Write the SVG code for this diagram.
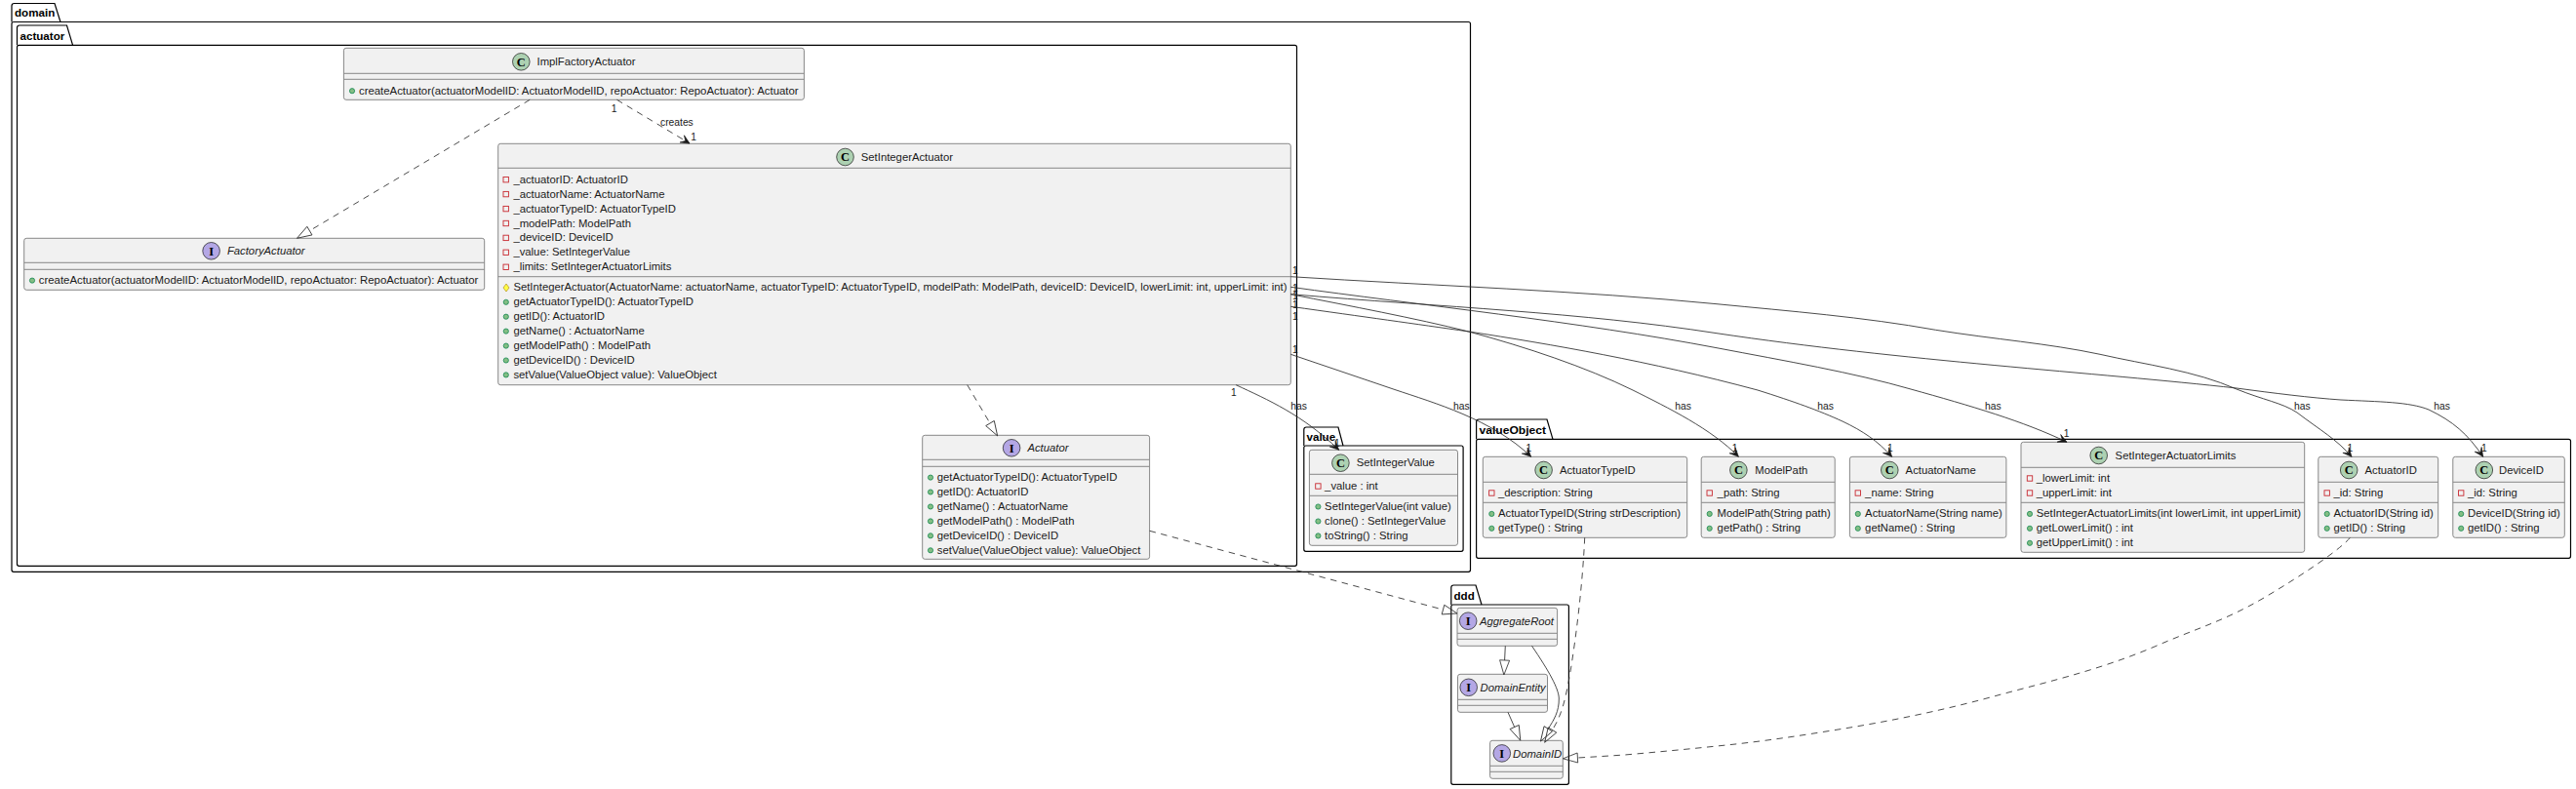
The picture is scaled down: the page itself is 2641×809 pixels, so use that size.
<svg xmlns="http://www.w3.org/2000/svg" width="2641" height="809" viewBox="0 0 2641 809">
<style>
text{font-family:"Liberation Sans",Arial,sans-serif;font-size:11.3px;fill:#1a1a1a}
.pk{fill:none;stroke:#000;stroke-width:1.2}
.pt{font-weight:bold;font-size:11.6px;fill:#000}
.b{fill:#F1F1F1;stroke:#888;stroke-width:1}
.d{stroke:#888;stroke-width:1}
.ci{fill:#ADD1B2;stroke:#181818;stroke-width:.7}
.ii{fill:#B4A7E5;stroke:#181818;stroke-width:.7}
.l{font-family:"Liberation Serif",serif;font-size:12.5px;font-weight:bold;text-anchor:middle;fill:#000}
.it{font-style:italic}
.pub{fill:#84BE84;stroke:#038048;stroke-width:.7}
.pri{fill:none;stroke:#C82930;stroke-width:.9}
.pro{fill:#FFFF44;stroke:#B38D22;stroke-width:.7}
.e{fill:none;stroke:#2a2a2a;stroke-width:.85}
.da{stroke-dasharray:6.5,5.5}
.imp{marker-end:url(#tri)}
.arr{marker-end:url(#ah)}
.el{font-size:10.3px}
</style>
<defs>
<marker id="tri" viewBox="-1 -7 18 14" refX="0" refY="0" markerWidth="18" markerHeight="14" markerUnits="userSpaceOnUse" orient="auto"><path d="M0,-5 L0,5 L15,0 Z" fill="none" stroke="#2a2a2a" stroke-width=".8"/></marker>
<marker id="ah" viewBox="-10 -6 11 12" refX="0" refY="0" markerWidth="11" markerHeight="12" markerUnits="userSpaceOnUse" orient="auto"><path d="M0,0 L-9,-4.2 L-5,0 L-9,4.2 Z" fill="#181818" stroke="#181818" stroke-width=".6"/></marker>
</defs>
<rect width="2641" height="809" fill="#fff"/>
<g id="packages">
<g id="pkg-domain"><path class="pk" d="M12,22.5 V6 Q12,3.5 14.5,3.5 H56 L62,22.5"/><rect class="pk" x="12" y="22.5" width="1495.5" height="563.8" rx="2"/><text class="pt" x="15" y="17.3">domain</text></g>
<g id="pkg-actuator"><path class="pk" d="M17.5,46.3 V28.5 Q17.5,26 20,26 H68.5 L74.6,46.3"/><rect class="pk" x="17.5" y="46.3" width="1312" height="534" rx="2"/><text class="pt" x="20.5" y="40.5">actuator</text></g>
<g id="pkg-value"><path class="pk" d="M1336.8,457 V440.5 Q1336.8,438 1339.3,438 H1372 L1377,457"/><rect class="pk" x="1336.8" y="457" width="163.3" height="108.3" rx="2"/><text class="pt" x="1339.5" y="452">value</text></g>
<g id="pkg-valueObject"><path class="pk" d="M1513.6,450.3 V432.5 Q1513.6,430 1516.1,430 H1586 L1592,450.3"/><rect class="pk" x="1513.6" y="450.3" width="1121.9" height="122" rx="2"/><text class="pt" x="1516.5" y="444.5" textLength="68.5" lengthAdjust="spacingAndGlyphs">valueObject</text></g>
<g id="pkg-ddd"><path class="pk" d="M1487.8,620 V602.5 Q1487.8,600 1490.3,600 H1513 L1519,620"/><rect class="pk" x="1487.8" y="620" width="120.6" height="184.3" rx="2"/><text class="pt" x="1490.5" y="614.5">ddd</text></g>
</g>
<g id="n-ImplFactoryActuator"><rect class="b" x="352.4" y="49.3" width="472" height="53" rx="2.5"/><path class="d" d="M352.4,75.3 H824.4 M352.4,81.3 H824.4"/><circle class="ci" cx="534.3" cy="63.3" r="8.8"/><text class="l" x="534.3" y="67.6">C</text><text x="550.5" y="67">ImplFactoryActuator</text><circle class="pub" cx="361" cy="93.2" r="2.6"/><text x="368" y="96.7" textLength="450.6" lengthAdjust="spacingAndGlyphs">createActuator(actuatorModelID: ActuatorModelID, repoActuator: RepoActuator): Actuator</text></g>
<g id="n-FactoryActuator"><rect class="b" x="24.7" y="244.3" width="472" height="53" rx="2.5"/><path class="d" d="M24.7,269.3 H496.7 M24.7,276.3 H496.7"/><circle class="ii" cx="216.6" cy="257.3" r="8.8"/><text class="l" x="216.6" y="261.6">I</text><text class="it" x="232.9" y="261">FactoryActuator</text><circle class="pub" cx="33" cy="287.6" r="2.6"/><text x="39.8" y="291.1" textLength="450.6" lengthAdjust="spacingAndGlyphs">createActuator(actuatorModelID: ActuatorModelID, repoActuator: RepoActuator): Actuator</text></g>
<g id="n-SetIntegerActuator"><rect class="b" x="510.7" y="147.3" width="812.6" height="247.4" rx="2.5"/><path class="d" d="M510.7,172.3 H1323.3 M510.7,283.7 H1323.3"/><circle class="ci" cx="866.5" cy="161" r="8.8"/><text class="l" x="866.5" y="165.3">C</text><text x="882.8" y="164.7">SetIntegerActuator</text>
<rect class="pri" x="516" y="181.5" width="5.4" height="5.4"/><text x="526.4" y="187.7">_actuatorID: ActuatorID</text>
<rect class="pri" x="516" y="196.4" width="5.4" height="5.4"/><text x="526.4" y="202.6">_actuatorName: ActuatorName</text>
<rect class="pri" x="516" y="211.4" width="5.4" height="5.4"/><text x="526.4" y="217.6">_actuatorTypeID: ActuatorTypeID</text>
<rect class="pri" x="516" y="226.3" width="5.4" height="5.4"/><text x="526.4" y="232.5">_modelPath: ModelPath</text>
<rect class="pri" x="516" y="241.2" width="5.4" height="5.4"/><text x="526.4" y="247.4">_deviceID: DeviceID</text>
<rect class="pri" x="516" y="256.1" width="5.4" height="5.4"/><text x="526.4" y="262.3">_value: SetIntegerValue</text>
<rect class="pri" x="516" y="271.1" width="5.4" height="5.4"/><text x="526.4" y="277.3">_limits: SetIntegerActuatorLimits</text>
<path class="pro" d="M519,291 L522,295 L519,299 L516,295 Z"/><text x="526.4" y="298.3">SetIntegerActuator(ActuatorName: actuatorName, actuatorTypeID: ActuatorTypeID, modelPath: ModelPath, deviceID: DeviceID, lowerLimit: int, upperLimit: int)</text>
<circle class="pub" cx="518.8" cy="309.8" r="2.6"/><text x="526.4" y="313.3">getActuatorTypeID(): ActuatorTypeID</text>
<circle class="pub" cx="518.8" cy="324.7" r="2.6"/><text x="526.4" y="328.2">getID(): ActuatorID</text>
<circle class="pub" cx="518.8" cy="339.6" r="2.6"/><text x="526.4" y="343.1">getName() : ActuatorName</text>
<circle class="pub" cx="518.8" cy="354.6" r="2.6"/><text x="526.4" y="358.1">getModelPath() : ModelPath</text>
<circle class="pub" cx="518.8" cy="369.5" r="2.6"/><text x="526.4" y="373">getDeviceID() : DeviceID</text>
<circle class="pub" cx="518.8" cy="384.4" r="2.6"/><text x="526.4" y="387.9">setValue(ValueObject value): ValueObject</text></g>
<g id="n-Actuator"><rect class="b" x="945.7" y="446.3" width="232.9" height="127" rx="2.5"/><path class="d" d="M945.7,471.3 H1178.6 M945.7,478.3 H1178.6"/><circle class="ii" cx="1037.1" cy="459.3" r="8.8"/><text class="l" x="1037.1" y="463.6">I</text><text class="it" x="1053.4" y="463">Actuator</text>
<circle class="pub" cx="954" cy="489.6" r="2.6"/><text x="960.8" y="493.1">getActuatorTypeID(): ActuatorTypeID</text>
<circle class="pub" cx="954" cy="504.5" r="2.6"/><text x="960.8" y="508">getID(): ActuatorID</text>
<circle class="pub" cx="954" cy="519.5" r="2.6"/><text x="960.8" y="523">getName() : ActuatorName</text>
<circle class="pub" cx="954" cy="534.4" r="2.6"/><text x="960.8" y="537.9">getModelPath() : ModelPath</text>
<circle class="pub" cx="954" cy="549.3" r="2.6"/><text x="960.8" y="552.8">getDeviceID() : DeviceID</text>
<circle class="pub" cx="954" cy="564.3" r="2.6"/><text x="960.8" y="567.8">setValue(ValueObject value): ValueObject</text></g>
<g id="n-SetIntegerValue"><rect class="b" x="1342.4" y="461.3" width="152.1" height="98" rx="2.5"/><path class="d" d="M1342.4,486.3 H1494.5 M1342.4,508.3 H1494.5"/><circle class="ci" cx="1374.4" cy="474.7" r="8.8"/><text class="l" x="1374.4" y="479">C</text><text x="1390.7" y="478.4">SetIntegerValue</text>
<rect class="pri" x="1348.7" y="495.8" width="5.4" height="5.4"/><text x="1358.1" y="502">_value : int</text>
<circle class="pub" cx="1351.4" cy="519.5" r="2.6"/><text x="1358.1" y="523">SetIntegerValue(int value)</text>
<circle class="pub" cx="1351.4" cy="534.5" r="2.6"/><text x="1358.1" y="538">clone() : SetIntegerValue</text>
<circle class="pub" cx="1351.4" cy="549.4" r="2.6"/><text x="1358.1" y="552.9">toString() : String</text></g>
<g id="n-ActuatorTypeID"><rect class="b" x="1520.3" y="468.3" width="209.4" height="83" rx="2.5"/><path class="d" d="M1520.3,494.3 H1729.7 M1520.3,515.3 H1729.7"/><circle class="ci" cx="1582.6" cy="482" r="8.8"/><text class="l" x="1582.6" y="486.3">C</text><text x="1598.9" y="485.7">ActuatorTypeID</text>
<rect class="pri" x="1526.6" y="502.8" width="5.4" height="5.4"/><text x="1536" y="509">_description: String</text>
<circle class="pub" cx="1529.3" cy="526.9" r="2.6"/><text x="1536" y="530.4">ActuatorTypeID(String strDescription)</text>
<circle class="pub" cx="1529.3" cy="541.8" r="2.6"/><text x="1536" y="545.3">getType() : String</text></g>
<g id="n-ModelPath"><rect class="b" x="1744.2" y="468.3" width="137" height="83" rx="2.5"/><path class="d" d="M1744.2,494.3 H1881.2 M1744.2,515.3 H1881.2"/><circle class="ci" cx="1782.4" cy="482" r="8.8"/><text class="l" x="1782.4" y="486.3">C</text><text x="1799.3" y="485.7">ModelPath</text>
<rect class="pri" x="1750" y="502.8" width="5.4" height="5.4"/><text x="1760.6" y="509">_path: String</text>
<circle class="pub" cx="1752.7" cy="526.9" r="2.6"/><text x="1760.6" y="530.4">ModelPath(String path)</text>
<circle class="pub" cx="1752.7" cy="541.8" r="2.6"/><text x="1760.6" y="545.3">getPath() : String</text></g>
<g id="n-ActuatorName"><rect class="b" x="1896.4" y="468.3" width="160.5" height="83" rx="2.5"/><path class="d" d="M1896.4,494.3 H2056.9 M1896.4,515.3 H2056.9"/><circle class="ci" cx="1937.3" cy="482" r="8.8"/><text class="l" x="1937.3" y="486.3">C</text><text x="1953.6" y="485.7">ActuatorName</text>
<rect class="pri" x="1902.1" y="502.8" width="5.4" height="5.4"/><text x="1912.1" y="509">_name: String</text>
<circle class="pub" cx="1904.8" cy="526.9" r="2.6"/><text x="1912.1" y="530.4">ActuatorName(String name)</text>
<circle class="pub" cx="1904.8" cy="541.8" r="2.6"/><text x="1912.1" y="545.3">getName() : String</text></g>
<g id="n-SetIntegerActuatorLimits"><rect class="b" x="2072" y="453.3" width="290.7" height="113" rx="2.5"/><path class="d" d="M2072,479.3 H2362.7 M2072,515.3 H2362.7"/><circle class="ci" cx="2151.7" cy="467" r="8.8"/><text class="l" x="2151.7" y="471.3">C</text><text x="2168.6" y="470.7">SetIntegerActuatorLimits</text>
<rect class="pri" x="2078.3" y="487.8" width="5.4" height="5.4"/><text x="2087.7" y="494">_lowerLimit: int</text>
<rect class="pri" x="2078.3" y="502.8" width="5.4" height="5.4"/><text x="2087.7" y="509">_upperLimit: int</text>
<circle class="pub" cx="2081" cy="526.9" r="2.6"/><text x="2087.7" y="530.4">SetIntegerActuatorLimits(int lowerLimit, int upperLimit)</text>
<circle class="pub" cx="2081" cy="541.8" r="2.6"/><text x="2087.7" y="545.3">getLowerLimit() : int</text>
<circle class="pub" cx="2081" cy="556.8" r="2.6"/><text x="2087.7" y="560.3">getUpperLimit() : int</text></g>
<g id="n-ActuatorID"><rect class="b" x="2376.8" y="468.3" width="122.9" height="83" rx="2.5"/><path class="d" d="M2376.8,494.3 H2499.7 M2376.8,515.3 H2499.7"/><circle class="ci" cx="2408.2" cy="482" r="8.8"/><text class="l" x="2408.2" y="486.3">C</text><text x="2424.5" y="485.7">ActuatorID</text>
<rect class="pri" x="2383" y="502.8" width="5.4" height="5.4"/><text x="2392.5" y="509">_id: String</text>
<circle class="pub" cx="2385.7" cy="526.9" r="2.6"/><text x="2392.5" y="530.4">ActuatorID(String id)</text>
<circle class="pub" cx="2385.7" cy="541.8" r="2.6"/><text x="2392.5" y="545.3">getID() : String</text></g>
<g id="n-DeviceID"><rect class="b" x="2514.8" y="468.3" width="114.5" height="83" rx="2.5"/><path class="d" d="M2514.8,494.3 H2629.3 M2514.8,515.3 H2629.3"/><circle class="ci" cx="2546.8" cy="482" r="8.8"/><text class="l" x="2546.8" y="486.3">C</text><text x="2562" y="485.7">DeviceID</text>
<rect class="pri" x="2520.5" y="502.8" width="5.4" height="5.4"/><text x="2530" y="509">_id: String</text>
<circle class="pub" cx="2523.2" cy="526.9" r="2.6"/><text x="2530" y="530.4">DeviceID(String id)</text>
<circle class="pub" cx="2523.2" cy="541.8" r="2.6"/><text x="2530" y="545.3">getID() : String</text></g>
<g id="n-AggregateRoot"><rect class="b" x="1494" y="623.3" width="102.6" height="39" rx="2.5"/><path class="d" d="M1494,649.3 H1596.6 M1494,655.3 H1596.6"/><circle class="ii" cx="1505.2" cy="636.7" r="8.8"/><text class="l" x="1505.2" y="641">I</text><text class="it" x="1517" y="640.7">AggregateRoot</text></g>
<g id="n-DomainEntity"><rect class="b" x="1494.5" y="691.3" width="92" height="39" rx="2.5"/><path class="d" d="M1494.5,717.3 H1586.5 M1494.5,723.3 H1586.5"/><circle class="ii" cx="1505.7" cy="704.8" r="8.8"/><text class="l" x="1505.7" y="709.1">I</text><text class="it" x="1517.5" y="708.7">DomainEntity</text></g>
<g id="n-DomainID"><rect class="b" x="1527.6" y="759.3" width="74.7" height="39" rx="2.5"/><path class="d" d="M1527.6,785.3 H1602.3 M1527.6,791.3 H1602.3"/><circle class="ii" cx="1539.8" cy="772.4" r="8.8"/><text class="l" x="1539.8" y="776.7">I</text><text class="it" x="1551" y="776.7">DomainID</text></g>
<g id="connectors">
<path class="e da imp" d="M543.2,102.3 L317.4,236.6"/>
<path class="e da arr" d="M632.5,102.3 L707,147"/>
<text class="el" x="677" y="129.4">creates</text><text class="el" x="626.7" y="115">1</text><text class="el" x="708.2" y="144">1</text>
<path class="e da imp" d="M991.7,394.7 L1015,434"/>
<path class="e da imp" d="M1178.6,544.3 L1479.5,625.1"/>
<path class="e imp" d="M1543.3,662.3 L1542.6,677"/>
<path class="e imp" d="M1546,730.3 L1552.7,745.5"/>
<path class="e imp" d="M1570.5,662.3 C1588,688 1598,706 1598.3,716 C1598.5,730 1593,738 1587.3,747.3"/>
<path class="e da imp" d="M1624.7,551.3 C1623,590 1617,650 1608,700 C1604,720 1601,733 1591.5,748.5"/>
<path class="e da imp" d="M2409.3,551.3 C2400,563 2360,590 2321,613 C2280,637 2250,645 2209,663 C2150,688 2095,700 2040.6,715 C1985,730 1930,741 1872,750 C1835,756 1800,761 1765,764.5 C1732,768 1700,771 1665.7,774 C1650,775 1635,776 1617.4,777"/>
<path class="e arr" d="M1267.2,394.7 C1300,410 1335,425 1372.7,461.3"/>
<path class="e arr" d="M1323.3,363.3 L1430,399.5 C1470,413 1530,430 1569.7,468.3"/>
<path class="e arr" d="M1323.3,301.7 C1385,314 1450,326 1505.7,340 C1565,356 1625,376 1674,400 C1710,418 1755,440 1782.4,468.3"/>
<path class="e arr" d="M1323.3,314.3 C1400,325 1450,332 1506,340 C1590,353 1690,370 1802,400 C1840,412 1865,421 1889,432 C1910,442 1925,452 1939.6,468.3"/>
<path class="e arr" d="M1323.3,294.3 C1450,312 1620,330 1760,356.7 C1830,370 1900,382 1959,399 C2020,416 2075,432 2119,453.3"/>
<path class="e arr" d="M1323.3,283.7 C1470,293 1620,298 1760,311.7 C1835,319 1910,325 1984.5,338.3 C2045,348 2100,352 2153,363.3 C2200,374 2250,380 2293,399 C2320,410 2340,413 2355,423 C2380,442 2395,450 2411,468.3"/>
<path class="e arr" d="M1323.3,301.7 C1480,315 1620,320 1760,341.7 C1950,370 2150,382 2293,398 C2330,403 2370,408 2400,410 C2440,412 2470,412 2490,420 C2515,432 2530,445 2545.7,468.3"/>
<g id="edge-labels">
<text class="el" x="1323.3" y="420">has</text><text class="el" x="1490" y="420">has</text><text class="el" x="1717.3" y="420">has</text><text class="el" x="1863.3" y="420">has</text><text class="el" x="2035" y="420">has</text><text class="el" x="2352" y="420">has</text><text class="el" x="2495.2" y="420">has</text>
<text class="el" x="1262" y="406">1</text><text class="el" x="1368" y="458">1</text><text class="el" x="1564.6" y="463">1</text><text class="el" x="1775.7" y="463">1</text><text class="el" x="1935" y="463">1</text><text class="el" x="2115.8" y="448">1</text><text class="el" x="2406.5" y="463">1</text><text class="el" x="2544" y="463">1</text>
<text class="el" x="1325" y="281.3">1</text><text class="el" x="1325" y="298.7">1</text><text class="el" x="1325" y="306.7">1</text><text class="el" x="1325" y="315.7">1</text><text class="el" x="1325" y="328.3">1</text><text class="el" x="1325" y="362.3">1</text>
</g>
</g>
</svg>
